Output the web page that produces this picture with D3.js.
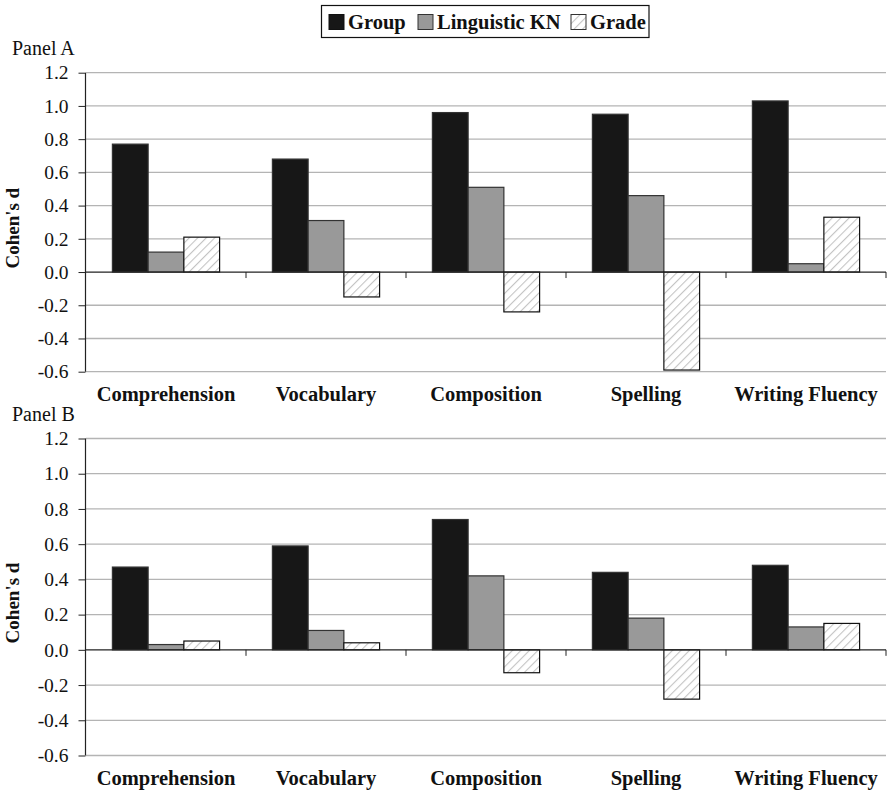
<!DOCTYPE html>
<html><head><meta charset="utf-8">
<script src="https://cdn.jsdelivr.net/npm/d3@7"></script>
<style>body{margin:0;background:#fff}svg{display:block}</style>
</head><body>
<script>
const categories = ["Comprehension","Vocabulary","Composition","Spelling","Writing Fluency"];
const seriesNames = ["Group","Linguistic KN","Grade"];
const panelAGroup = [0.77,0.68,0.96,0.95,1.03];
const panelALKN   = [0.12,0.31,0.51,0.46,0.05];
const panelAGrade = [0.21,-0.15,-0.24,-0.59,0.33];
const panelBGroup = [0.47,0.59,0.74,0.44,0.48];
const panelBLKN   = [0.03,0.11,0.42,0.18,0.13];
const panelBGrade = [0.05,0.04,-0.13,-0.28,0.15];
const yTicks = [-0.6,-0.4,-0.2,0.0,0.2,0.4,0.6,0.8,1.0,1.2];

const W=888,H=794;
const FONT="Liberation Serif";
const svg=d3.select("body").append("svg").attr("width",W).attr("height",H);

const defs=svg.append("defs");
const pat=defs.append("pattern").attr("id","hatch").attr("patternUnits","userSpaceOnUse")
  .attr("width",6).attr("height",6).attr("patternTransform","rotate(45)");
pat.append("rect").attr("width",6).attr("height",6).attr("fill","#fff");
pat.append("line").attr("x1",0).attr("y1",0).attr("x2",0).attr("y2",6).attr("stroke","#c4c4c4").attr("stroke-width",2.2);

const fills={"Group":"#171717","Linguistic KN":"#999999","Grade":"url(#hatch)"};
const fmt=d=>d.toFixed(1);

const x0=d3.scaleBand().domain(categories).range([86,886]).paddingInner(0.33).paddingOuter(0.165);
const x1=d3.scaleBand().domain(seriesNames).range([0,x0.bandwidth()]).padding(0);

function panel(label,top,bottom,vals){
  const y=d3.scaleLinear().domain([-0.6,1.2]).range([bottom,top]);
  const g=svg.append("g");
  g.selectAll("line.grid").data(yTicks.filter(t=>t!==0)).join("line")
    .attr("x1",86).attr("x2",886).attr("y1",d=>y(d)).attr("y2",d=>y(d))
    .attr("stroke","#b4b4b4").attr("stroke-width",1.3);
  const ya=g.append("g").attr("transform","translate(85.5,0)")
    .call(d3.axisLeft(y).tickValues(yTicks).tickFormat(fmt).tickSize(7).tickPadding(10));
  ya.select(".domain").attr("stroke","#222").attr("stroke-width",1.2).attr("d",`M0,${top}V${bottom}`);
  ya.selectAll(".tick line").attr("stroke","#222");
  ya.selectAll("text").style("font-family",FONT).attr("font-size",19.5).attr("fill","#111");
  const rows=categories.map((c,i)=>({c,vals:seriesNames.map((s,j)=>({s,v:vals[j][i]}))}));
  const cg=g.selectAll("g.cat").data(rows).join("g").attr("transform",d=>`translate(${x0(d.c)},0)`);
  cg.selectAll("rect").data(d=>d.vals).join("rect")
    .attr("x",d=>x1(d.s)).attr("width",x1.bandwidth())
    .attr("y",d=>y(Math.max(0,d.v))).attr("height",d=>Math.abs(y(d.v)-y(0)))
    .attr("fill",d=>fills[d.s]).attr("stroke",d=>d.s==="Grade"?"#111":"#333").attr("stroke-width",1.2);
  const xa=g.append("g").attr("transform",`translate(0,${y(0)})`);
  xa.append("line").attr("x1",86).attr("x2",886).attr("stroke","#222").attr("stroke-width",1.2);
  const bounds=categories.map((c,i)=>86+i*x0.step()).concat([886]);
  xa.selectAll("line.t").data(bounds.slice(1)).join("line").attr("class","t")
    .attr("x1",d=>d).attr("x2",d=>d).attr("y1",0).attr("y2",6).attr("stroke","#222");
  g.selectAll("text.cat").data(categories).join("text")
    .attr("x",d=>x0(d)+x0.bandwidth()/2).attr("y",bottom+29.5)
    .attr("text-anchor","middle").style("font-family",FONT).attr("font-size",20.5).attr("font-weight","bold").attr("fill","#111")
    .text(d=>d);
  g.append("text").attr("x",12).attr("y",top-18).style("font-family",FONT).attr("font-size",20).attr("fill","#111").text(label);
  g.append("text").attr("transform",`translate(19,${(top+bottom)/2+6}) rotate(-90)`)
    .attr("text-anchor","middle").style("font-family",FONT).attr("font-size",19).attr("font-weight","bold").attr("fill","#111")
    .text("Cohen's d");
}
panel("Panel A",72.7,371.7,[panelAGroup,panelALKN,panelAGrade]);
panel("Panel B",438.5,755.5,[panelBGroup,panelBLKN,panelBGrade]);

const lg=svg.append("g");
lg.append("rect").attr("x",321.5).attr("y",5.5).attr("width",327.5).attr("height",32).attr("fill","#fff").attr("stroke","#111").attr("stroke-width",1.2);
const items=[{s:"Group",x:329},{s:"Linguistic KN",x:418},{s:"Grade",x:571}];
items.forEach(it=>{
  lg.append("rect").attr("x",it.x).attr("y",14.5).attr("width",15).attr("height",15)
    .attr("fill",fills[it.s]).attr("stroke",it.s==="Group"?"#111":"#333").attr("stroke-width",1);
  lg.append("text").attr("x",it.x+19).attr("y",29).style("font-family",FONT).attr("font-size",20.5).attr("font-weight","bold").attr("fill","#111").text(it.s);
});
</script>
</body></html>
